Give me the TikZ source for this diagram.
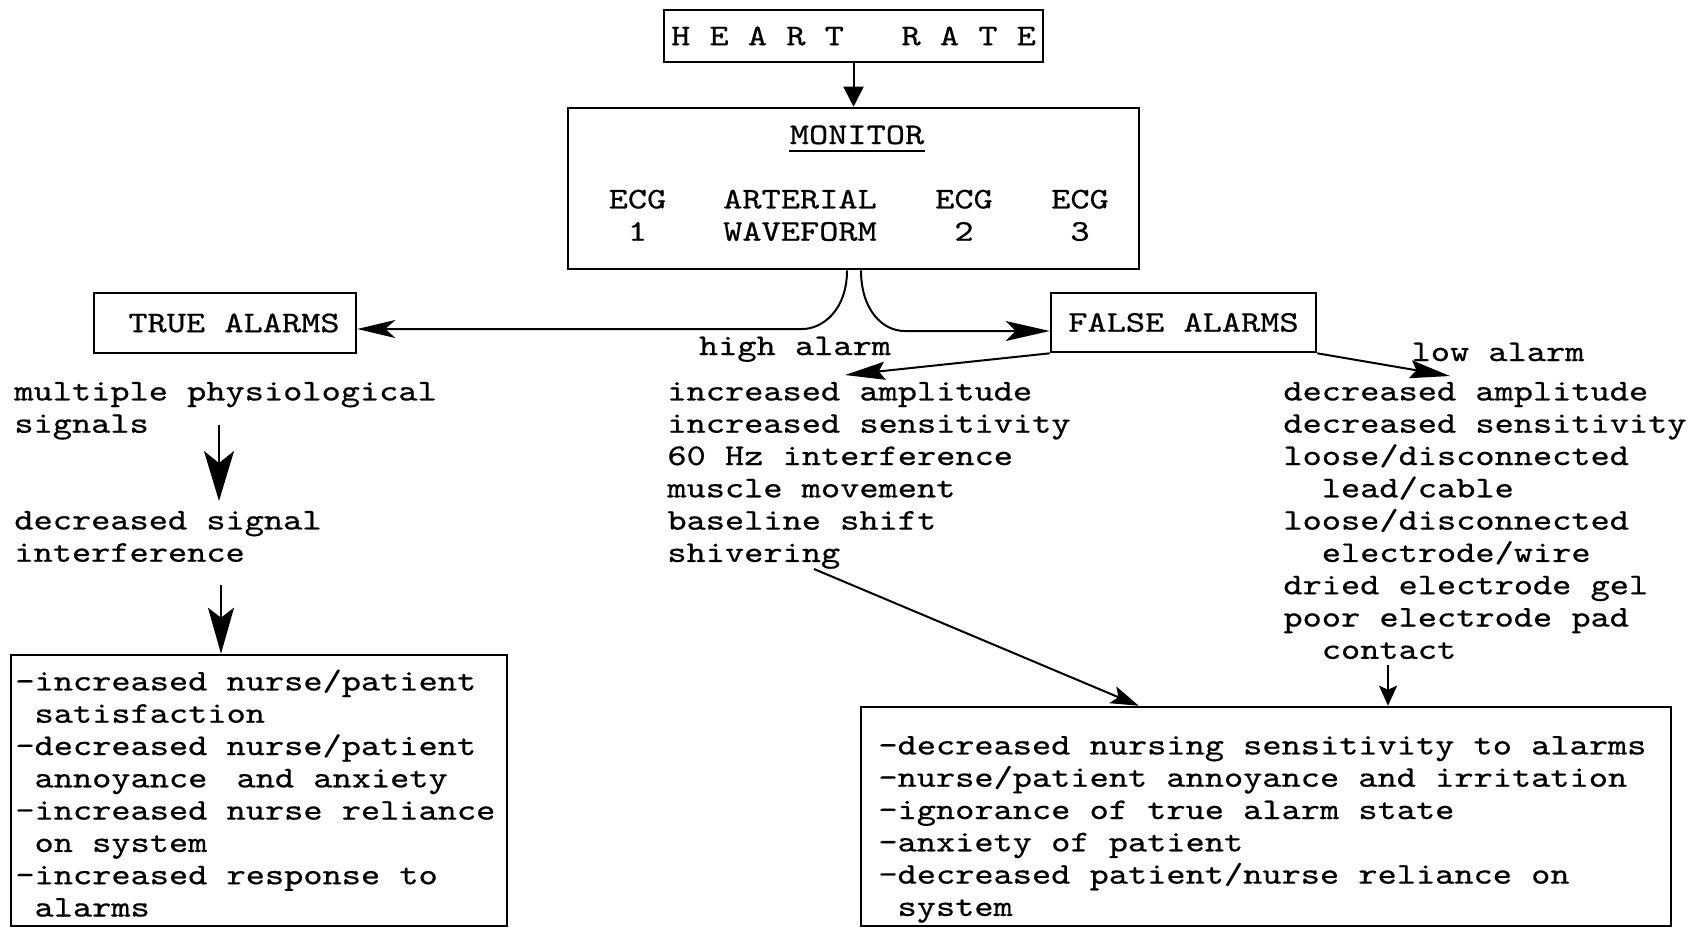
\documentclass[tikz,border=0pt]{standalone}
\usepackage{fontspec}
\usetikzlibrary{arrows.meta,calc}
\newfontfamily\twfam{lmmono10-regular.otf}[FakeStretch=1.219,FakeBold=0.6]
\newcommand\twfont{\twfam\fontsize{15pt}{16.15pt}\selectfont}
\begin{document}
\begin{tikzpicture}[x=0.5pt,y=-0.5pt,
  every node/.style={font=\twfont, inner sep=0pt, text=black},
  box/.style={draw, line width=1.3pt, rectangle},
  txt/.style={anchor=north west, align=left},
  conn/.style={line width=1pt},
]
\fill[white] (0,0) rectangle (1689,928);
\useasboundingbox (0,0) rectangle (1689,928);

% top boxes
\node[box, minimum width=189.5pt, minimum height=26pt] (hr) at (853.5,36) {H\ E\ A\ R\ T\ \ \ R\ A\ T\ E};
\node[box, minimum width=285.5pt, minimum height=80.5pt] (mon) at (853.5,188.5) {};
\node[anchor=base] (monlbl) at (857,144) {MONITOR};
\draw[line width=0.8pt] ($(monlbl.base west)+(0,7)$) -- ($(monlbl.base east)+(0,7)$);
\node[anchor=north, align=center] (ecg1) at (637.5,180) {\rule{0pt}{14pt}ECG\\1};
\node[anchor=north, align=center] (art) at (800,180) {\rule{0pt}{14pt}ARTERIAL\\WAVEFORM};
\node[anchor=north, align=center] (ecg2) at (964,180) {\rule{0pt}{14pt}ECG\\2};
\node[anchor=north, align=center] (ecg3) at (1080,180) {\rule{0pt}{14pt}ECG\\3};

% alarm boxes
\node[box, minimum width=131pt, minimum height=30pt] (true) at (225,323) {\hspace*{9pt}TRUE ALARMS};
\node[box, minimum width=132.5pt, minimum height=29.5pt] (false) at (1183.5,322.5) {FALSE ALARMS};

% left column
\node[txt] (mps) at (14,372) {\rule{0pt}{14pt}multiple physiological\\signals};
\node[txt] (dsi) at (14,501) {\rule{0pt}{14pt}decreased signal\\interference};
\node[box, minimum width=248pt, minimum height=135.5pt] (lbox) at (259,790.5) {};
\node[txt] (ltxt) at (15,662) {\rule{0pt}{14pt}-increased nurse/patient\\
\hspace*{9.6pt}satisfaction\\
-decreased nurse/patient\\
\hspace*{9.6pt}annoyance\hspace{14.6pt}and anxiety\\
-increased nurse reliance\\
\hspace*{9.6pt}on system\\
-increased response to\\
\hspace*{9.6pt}alarms};

% middle column
\node[anchor=base] (hal) at (795,355) {high alarm};
\node[txt] (hl) at (667,372) {\rule{0pt}{14pt}increased amplitude\\
increased sensitivity\\
60 Hz interference\\
muscle movement\\
baseline shift\\
shivering};

% right column
\node[anchor=base] (lal) at (1498,361) {low alarm};
\node[txt] (ll) at (1283,372) {\rule{0pt}{14pt}decreased amplitude\\
decreased sensitivity\\
loose/disconnected\\
\hspace*{19.2pt}lead/cable\\
loose/disconnected\\
\hspace*{19.2pt}electrode/wire\\
dried electrode gel\\
poor electrode pad\\
\hspace*{19.2pt}contact};

\node[box, minimum width=405pt, minimum height=109.5pt] (brbox) at (1266,816.5) {};
\node[txt] (brtxt) at (878,726) {\rule{0pt}{14pt}-decreased nursing sensitivity to alarms\\
-nurse/patient annoyance and irritation\\
-ignorance of true alarm state\\
-anxiety of patient\\
-decreased patient/nurse reliance on\\
\hspace*{9.6pt}system};

% connectors
\draw[conn, -{Triangle[length=10pt,width=10pt]}] (hr.south) -- (mon.north);
\draw[conn, -{Stealth[length=19pt,width=9pt,inset=5pt]}]
  ($(mon.south)+(-6.5,0)$) .. controls +(0,40) and +(20,0) .. ($(true.east)+(445,6)$) -- ($(true.east)+(0,6)$);
\draw[conn, -{Stealth[length=22pt,width=10pt,inset=5pt]}]
  ($(mon.south)+(7.5,0)$) .. controls +(0,40) and +(-22,0) .. ($(false.west)+(-145,8.5)$) -- ($(false.west)+(0,8.5)$);

\coordinate (hat) at (845,375);
\draw[conn, -{Stealth[length=20pt,width=9pt,inset=3pt]}] (false.south west) -- (hat);
\coordinate (lat) at (1450,376);
\draw[conn, -{Stealth[length=20pt,width=9pt,inset=3pt]}] (false.south east) -- (lat);

\draw[line width=0.7pt] ($(true.south)+(-9,0)$) -- ($(true.south)+(-9,0)$ |- mps.north);

\coordinate (a1) at (219,425);
\draw[conn, -{Stealth[length=25pt,width=15pt,inset=6pt]}] (a1) -- (a1 |- dsi.north);
\coordinate (a2) at (221,585);
\draw[conn, -{Stealth[length=23pt,width=13pt,inset=5pt]}] (a2) -- (a2 |- lbox.north);

\coordinate (sv) at (814,569);
\draw[conn, -{Stealth[length=14pt,width=9pt,inset=3pt]}] (sv) -- ($(brbox.north west)+(279,0)$);
\coordinate (ct) at (1388,665);
\draw[conn, -{Stealth[length=10pt,width=9pt,inset=2pt]}] (ct) -- (ct |- brbox.north);
\end{tikzpicture}
\end{document}
